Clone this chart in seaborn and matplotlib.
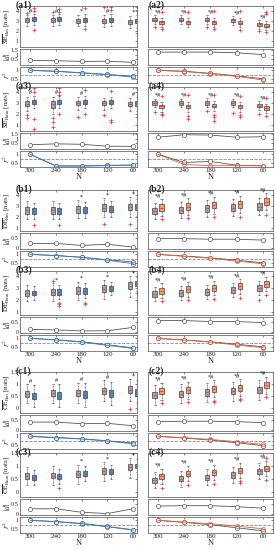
import numpy as np
import pandas as pd
import seaborn as sns
import matplotlib
matplotlib.use('Agg')
import matplotlib.pyplot as plt

sns.set_style('white')
plt.rcParams['font.family'] = ['Liberation Serif', 'DejaVu Serif']
plt.rcParams['mathtext.fontset'] = 'stix'

N = [300, 240, 180, 120, 60]

# box stats per N: [low whisker, q1, median, q3, high whisker]
# ---- group a (SE) ----
a1_gray = [[2.5, 2.85, 3.05, 3.25, 3.6], [2.5, 2.85, 3.05, 3.25, 3.6], [2.45, 2.8, 3.0, 3.2, 3.55],
           [2.4, 2.8, 3.0, 3.2, 3.55], [2.3, 2.7, 2.9, 3.1, 3.5]]
a1_col = [[2.6, 2.95, 3.15, 3.35, 3.7], [2.6, 2.95, 3.15, 3.35, 3.7], [2.5, 2.9, 3.1, 3.3, 3.7],
          [2.45, 2.85, 3.05, 3.3, 3.7], [2.3, 2.75, 2.95, 3.2, 3.6]]
a1_out_gray = [(300, 3.8), (240, 3.9), (120, 4.4)]
a1_out_col = [(300, 4.3), (300, 4.0), (300, 2.1), (240, 4.2), (240, 3.9), (180, 4.3), (180, 2.2),
              (120, 4.4), (120, 4.1), (60, 4.4), (60, 4.1), (60, 1.8)]
a1_marks = ['#', '#', '*', '#', '*']
a1_d = [0.38, 0.35, 0.28, 0.3, 0.18]
a1_r2_gray = [1.0, 0.95, 0.86, 0.76, 0.64]
a1_r2_col = [1.0, 0.94, 0.84, 0.74, 0.6]

a2_gray = [[2.65, 2.95, 3.1, 3.25, 3.55], [2.65, 2.95, 3.1, 3.25, 3.55], [2.65, 2.95, 3.1, 3.25, 3.6],
           [2.6, 2.9, 3.05, 3.2, 3.5], [2.2, 2.5, 2.65, 2.8, 3.1]]
a2_col = [[2.4, 2.7, 2.85, 3.0, 3.3], [2.4, 2.7, 2.85, 3.0, 3.3], [2.4, 2.7, 2.85, 3.0, 3.3],
          [2.35, 2.65, 2.8, 2.95, 3.25], [2.05, 2.35, 2.5, 2.65, 2.95]]
a2_out_gray = [(300, 2.4), (180, 2.4), (60, 2.0)]
a2_out_col = [(300, 3.9), (300, 2.2), (240, 3.9), (180, 4.0), (180, 2.2), (120, 4.0), (120, 2.1),
              (60, 3.7), (60, 3.9), (60, 1.9)]
a2_marks = ['*#', '*#', '*#', '*#', '*#']
a2_d = [1.27, 1.27, 1.27, 1.2, 1.0]
a2_r2_gray = [1.0, 0.95, 0.82, 0.68, 0.5]
a2_r2_col = [1.0, 0.93, 0.8, 0.64, 0.43]

a3_gray = [[2.3, 2.75, 2.95, 3.15, 3.6], [2.0, 2.5, 2.9, 3.2, 3.6], [2.4, 2.8, 3.0, 3.2, 3.6],
           [2.4, 2.8, 3.0, 3.15, 3.5], [2.3, 2.7, 2.9, 3.1, 3.5]]
a3_col = [[2.5, 2.9, 3.1, 3.3, 3.7], [2.5, 2.9, 3.1, 3.3, 3.7], [2.5, 2.9, 3.05, 3.25, 3.65],
          [2.5, 2.9, 3.05, 3.25, 3.6], [2.3, 2.75, 2.95, 3.15, 3.55]]
a3_out_gray = [(300, 1.6), (300, 1.9), (240, 0.8), (240, 1.2), (240, 1.6), (180, 1.7), (120, 1.9)]
a3_out_col = [(300, 4.4), (300, 4.0), (300, 1.5), (300, 0.6), (240, 4.4), (240, 4.0), (240, 3.8),
              (240, 2.0), (180, 4.2), (180, 2.0), (120, 4.1), (120, 1.4), (120, 1.2), (60, 4.4), (60, 1.7)]
a3_marks = ['#', '#', '#', '', '#']
a3_d = [0.35, 0.45, 0.4, 0.2, 0.18]
a3_r2_gray = [1.0, 0.32, 0.32, 0.35, 0.37]
a3_r2_col = [1.0, 0.3, 0.3, 0.33, 0.35]

a4_gray = [[2.6, 2.85, 3.0, 3.15, 3.4], [2.6, 2.85, 3.0, 3.15, 3.4], [2.6, 2.85, 3.0, 3.15, 3.45],
           [2.6, 2.85, 3.0, 3.15, 3.4], [2.35, 2.6, 2.75, 2.9, 3.15]]
a4_col = [[2.2, 2.55, 2.7, 2.85, 3.1], [2.2, 2.55, 2.7, 2.85, 3.1], [2.25, 2.6, 2.75, 2.9, 3.15],
          [2.2, 2.55, 2.7, 2.85, 3.1], [2.05, 2.4, 2.55, 2.7, 2.95]]
a4_out_gray = [(300, 2.2), (180, 2.3), (120, 2.1), (60, 2.0)]
a4_out_col = [(300, 2.0), (300, 1.9), (300, 3.7), (240, 1.8), (240, 1.5), (240, 3.8), (180, 1.9),
              (180, 1.7), (180, 1.3), (180, 3.8), (120, 1.9), (120, 1.7), (120, 3.7), (60, 3.5), (60, 1.8)]
a4_marks = ['*#', '*#', '*#', '*#', '*#']
a4_d = [1.15, 1.42, 1.38, 1.15, 1.2]
a4_r2_gray = [1.0, 0.52, 0.58, 0.35, 0.32]
a4_r2_col = [1.0, 0.4, 0.33, 0.33, 0.32]

# ---- group b (DE) ----
b1_gray = [[1.8, 2.3, 2.6, 2.9, 3.45], [1.8, 2.3, 2.6, 2.9, 3.45], [1.9, 2.4, 2.7, 3.0, 3.55],
           [2.0, 2.55, 2.85, 3.15, 3.7], [2.0, 2.6, 2.9, 3.2, 3.8]]
b1_col = [[1.8, 2.25, 2.55, 2.85, 3.3], [1.8, 2.25, 2.55, 2.85, 3.3], [1.9, 2.35, 2.65, 2.95, 3.4],
          [2.0, 2.45, 2.75, 3.05, 3.5], [2.1, 2.6, 2.9, 3.2, 3.65]]
b1_out_gray = [(120, 1.4), (60, 1.4)]
b1_out_col = [(300, 1.3), (240, 1.3)]
b1_marks = ['', '', '*', '*', '*']
b1_d = [0.22, 0.22, 0.12, 0.18, 0.04]
b1_r2_gray = [1.0, 0.93, 0.83, 0.68, 0.55]
b1_r2_col = [1.0, 0.93, 0.82, 0.65, 0.45]

b2_gray = [[1.8, 2.25, 2.55, 2.85, 3.3], [1.9, 2.35, 2.65, 2.95, 3.4], [2.0, 2.5, 2.8, 3.1, 3.55],
           [2.1, 2.55, 2.85, 3.15, 3.6], [2.2, 2.65, 2.95, 3.25, 3.7]]
b2_col = [[2.1, 2.55, 2.85, 3.15, 3.6], [2.2, 2.65, 2.95, 3.25, 3.7], [2.3, 2.8, 3.1, 3.4, 3.85],
          [2.35, 2.85, 3.15, 3.45, 3.95], [2.6, 3.1, 3.4, 3.7, 4.15]]
b2_out_gray = []
b2_out_col = [(300, 1.8), (240, 1.9), (180, 2.0), (120, 2.0), (60, 2.2)]
b2_marks = ['*#', '*#', '*#', '*#', '*#']
b2_d = [0.45, 0.45, 0.42, 0.42, 0.38]
b2_r2_gray = [1.0, 0.9, 0.8, 0.65, 0.5]
b2_r2_col = [1.0, 0.88, 0.77, 0.6, 0.44]

b3_gray = [[1.9, 2.35, 2.6, 2.85, 3.3], [1.9, 2.4, 2.65, 2.9, 3.4], [2.0, 2.5, 2.8, 3.1, 3.55],
           [2.1, 2.65, 2.95, 3.25, 3.7], [2.3, 2.9, 3.2, 3.5, 4.0]]
b3_col = [[2.0, 2.4, 2.6, 2.8, 3.2], [2.1, 2.45, 2.7, 2.9, 3.3], [2.2, 2.55, 2.8, 3.0, 3.4],
          [2.4, 2.75, 2.95, 3.15, 3.5], [2.8, 3.2, 3.4, 3.6, 3.95]]
b3_out_gray = [(240, 3.6)]
b3_out_col = [(240, 1.8), (240, 1.5), (240, 1.7), (180, 1.8), (180, 1.7), (60, 2.6)]
b3_marks = ['', '*', '*', '*', '*']
b3_d = [0.12, 0.1, 0.05, 0.06, 0.22]
b3_r2_gray = [1.0, 0.92, 0.8, 0.62, 0.44]
b3_r2_col = [1.0, 0.9, 0.78, 0.58, 0.4]

b4_gray = [[1.9, 2.25, 2.5, 2.75, 3.1], [2.0, 2.35, 2.6, 2.85, 3.2], [2.1, 2.45, 2.7, 2.95, 3.3],
           [2.25, 2.6, 2.85, 3.1, 3.45], [2.4, 2.75, 3.0, 3.25, 3.6]]
b4_col = [[2.2, 2.55, 2.8, 3.05, 3.4], [2.3, 2.65, 2.9, 3.15, 3.5], [2.45, 2.8, 3.05, 3.3, 3.65],
          [2.55, 2.9, 3.15, 3.4, 3.75], [2.75, 3.1, 3.35, 3.6, 3.95]]
b4_out_gray = [(60, 2.0)]
b4_out_col = [(300, 1.9), (240, 2.0), (180, 2.1), (120, 2.2), (60, 2.4)]
b4_marks = ['*#', '*#', '*#', '*#', '*#']
b4_d = [0.55, 0.55, 0.5, 0.5, 0.45]
b4_r2_gray = [1.0, 0.9, 0.8, 0.65, 0.5]
b4_r2_col = [1.0, 0.9, 0.78, 0.6, 0.45]

# ---- group c (CE) ----
c1_gray = [[0.2, 0.48, 0.6, 0.72, 1.0], [0.22, 0.5, 0.62, 0.74, 1.02], [0.2, 0.5, 0.62, 0.76, 1.05],
           [0.3, 0.6, 0.72, 0.85, 1.15], [0.3, 0.62, 0.75, 0.9, 1.2]]
c1_col = [[0.05, 0.38, 0.5, 0.62, 0.95], [0.05, 0.4, 0.52, 0.65, 1.0], [0.05, 0.42, 0.55, 0.7, 1.05],
          [0.15, 0.48, 0.62, 0.76, 1.1], [0.2, 0.52, 0.65, 0.8, 1.15]]
c1_out_gray = [(60, -0.05)]
c1_out_col = []
c1_marks = ['#', '#', '#', '#', '*']
c1_d = [0.38, 0.38, 0.3, 0.32, 0.2]
c1_r2_gray = [1.0, 0.93, 0.86, 0.74, 0.6]
c1_r2_col = [1.0, 0.92, 0.84, 0.72, 0.56]

c2_gray = [[0.15, 0.42, 0.55, 0.68, 0.95], [0.2, 0.47, 0.6, 0.73, 1.0], [0.25, 0.52, 0.65, 0.78, 1.05],
           [0.3, 0.57, 0.7, 0.83, 1.1], [0.35, 0.62, 0.75, 0.88, 1.15]]
c2_col = [[0.35, 0.58, 0.7, 0.82, 1.05], [0.4, 0.63, 0.75, 0.87, 1.1], [0.45, 0.68, 0.8, 0.92, 1.15],
          [0.5, 0.73, 0.85, 0.97, 1.2], [0.6, 0.83, 0.95, 1.07, 1.3]]
c2_out_gray = []
c2_out_col = [(300, 0.2), (240, 0.25), (180, 0.3), (180, 0.25), (120, 0.4), (120, 0.35), (60, 0.45)]
c2_marks = ['*#', '*#', '*#', '*#', '*#']
c2_d = [0.4, 0.42, 0.42, 0.4, 0.35]
c2_r2_gray = [1.0, 0.9, 0.78, 0.62, 0.45]
c2_r2_col = [1.0, 0.92, 0.82, 0.68, 0.52]

c3_gray = [[0.25, 0.5, 0.6, 0.72, 0.95], [0.25, 0.52, 0.62, 0.74, 0.98], [0.3, 0.58, 0.7, 0.82, 1.05],
           [0.4, 0.68, 0.8, 0.92, 1.15], [0.55, 0.83, 0.95, 1.07, 1.3]]
c3_col = [[0.25, 0.45, 0.55, 0.65, 0.85], [0.3, 0.5, 0.6, 0.7, 0.9], [0.4, 0.6, 0.7, 0.8, 1.0],
          [0.5, 0.68, 0.78, 0.88, 1.05], [0.75, 0.92, 1.0, 1.08, 1.25]]
c3_out_gray = []
c3_out_col = [(240, 0.15)]
c3_marks = ['', '', '*', '*', '*']
c3_d = [0.25, 0.25, 0.08, 0.02, 0.25]
c3_r2_gray = [1.0, 0.93, 0.82, 0.64, 0.44]
c3_r2_col = [1.0, 0.92, 0.8, 0.62, 0.42]

c4_gray = [[0.15, 0.36, 0.45, 0.55, 0.75], [0.2, 0.4, 0.5, 0.6, 0.8], [0.25, 0.45, 0.55, 0.66, 0.88],
           [0.35, 0.55, 0.65, 0.75, 0.95], [0.5, 0.7, 0.8, 0.9, 1.1]]
c4_col = [[0.3, 0.5, 0.6, 0.7, 0.9], [0.4, 0.6, 0.7, 0.8, 1.0], [0.45, 0.65, 0.75, 0.86, 1.05],
          [0.52, 0.72, 0.82, 0.92, 1.12], [0.6, 0.8, 0.9, 1.0, 1.2]]
c4_out_gray = []
c4_out_col = [(300, 0.15), (240, 0.25), (180, 0.3), (120, 0.35), (120, 0.4), (60, 0.45), (60, 1.3)]
c4_marks = ['*#', '*#', '*#', '*#', '*#']
c4_d = [0.38, 0.4, 0.4, 0.35, 0.28]
c4_r2_gray = [1.0, 0.88, 0.74, 0.56, 0.38]
c4_r2_col = [1.0, 0.9, 0.8, 0.66, 0.5]

GRAY = '#a4a4a4'
BLUE = '#3f8fcc'
ORANGE = '#f0a070'
BLUE_LINE = '#3a7ebf'
ORANGE_LINE = '#e0603a'
RED = '#e8343a'
FRAME = '#6a6a6a'

W, H = 276, 550
fig = plt.figure(figsize=(W / 100, H / 100), dpi=100)


def add_axes(left, top, width, height):
    return fig.add_axes([left / W, 1 - (top + height) / H, width / W, height / H])


def style(ax, xlim, left_col, show_x):
    ax.set_xlim(*xlim)
    ax.set_xticks(N)
    ax.set_xticklabels([str(n) for n in N])
    ax.tick_params(direction='in', length=1.5, width=0.4, labelsize=4.5, pad=1,
                   top=True, right=True, labelbottom=show_x, labelleft=left_col,
                   colors='#222222')
    ax.tick_params(axis='x', labelsize=5)
    for s in ax.spines.values():
        s.set_color(FRAME)
        s.set_linewidth(0.6)
    ax.set_xlabel('')
    ax.set_ylabel('')


def ylab(ax, text, size):
    ax.set_ylabel(text, fontsize=size, labelpad=0)
    ax.yaxis.set_label_coords(-0.068, 0.5)


def boxes(ax, stats, shift, color):
    xs, ys = [], []
    for n, st in zip(N, stats):
        xs += [n + shift] * len(st)
        ys += st
    df = pd.DataFrame({'x': xs, 'y': ys})
    sns.boxplot(data=df, x='x', y='y', native_scale=True, whis=(0, 100), width=0.16,
                color=color, saturation=1, linecolor='#333333', linewidth=0.45, ax=ax,
                whiskerprops={'linestyle': '--', 'linewidth': 0.4},
                capprops={'linewidth': 0.4},
                medianprops={'color': RED, 'linewidth': 0.5})


def outliers(ax, pts, shift):
    if not pts:
        return
    sns.scatterplot(x=[p[0] + shift for p in pts], y=[p[1] for p in pts], marker='+',
                    color=RED, s=7, linewidth=0.5, ax=ax, zorder=5)


def draw_subrow(left, width, top, xlim, left_col, show_x, tag, ylab_txt, ylim_box, yticks_box,
                ylim_d, yticks_d, gray, col, color, line_color, out_g, out_c, marks,
                d, r2g, r2c, box_h):
    # box panel
    ax = add_axes(left, top, width, box_h)
    boxes(ax, gray, 8, GRAY)
    boxes(ax, col, -8, color)
    outliers(ax, out_g, 8)
    outliers(ax, out_c, -8)
    rng = ylim_box[1] - ylim_box[0]
    for n, m, g, c in zip(N, marks, gray, col):
        if m:
            ax.text(n, max(g[4], c[4]) + 0.07 * rng, m, fontsize=4.5, ha='center', va='center',
                    color='#111111')
    ax.set_ylim(*ylim_box)
    ax.set_yticks(yticks_box)
    ax.set_yticklabels([('%g' % v) for v in yticks_box])
    style(ax, xlim, left_col, False)
    if left_col:
        ylab(ax, ylab_txt, 5)
    ax.text(-0.04 if left_col else 0.005, 1.01, tag, transform=ax.transAxes, fontsize=7,
            fontweight='bold', ha='left', va='center', zorder=10)

    # |d| panel
    ax = add_axes(left, top + box_h + 2, width, 16)
    sns.lineplot(x=N, y=d, ax=ax, color='#555555', marker='o', markersize=3,
                 markerfacecolor='white', markeredgecolor='#555555', markeredgewidth=0.5,
                 linewidth=0.6)
    ax.set_ylim(*ylim_d)
    ax.set_yticks(yticks_d)
    ax.set_yticklabels([('%g' % v) for v in yticks_d])
    style(ax, xlim, left_col, False)
    if left_col:
        ylab(ax, r'$|d|$', 5.5)

    # r^2 panel
    ax = add_axes(left, top + box_h + 20, width, 16)
    ax.axhline(0.75, color='#8a8a8a', linestyle='--', linewidth=0.6)
    sns.lineplot(x=N, y=r2g, ax=ax, color='#555555', marker='o', markersize=3,
                 markerfacecolor='white', markeredgecolor='#555555', markeredgewidth=0.5,
                 linewidth=0.6)
    sns.lineplot(x=N, y=r2c, ax=ax, color=line_color, marker='o', markersize=3,
                 markerfacecolor='none', markeredgecolor=line_color, markeredgewidth=0.5,
                 linewidth=0.6)
    ax.set_ylim(0.25, 1.2)
    ax.set_yticks([0.5, 1])
    ax.set_yticklabels(['0.5', '1'])
    style(ax, xlim, left_col, show_x)
    if left_col:
        ylab(ax, r'$r^2$', 5.5)
    if show_x:
        ax.set_xlabel('N', fontsize=6, labelpad=0)


groups = [
    ('a', 0, r'$\overline{\mathrm{SE}}_{\mathrm{Bm}}$ [nats]', r'$\overline{\mathrm{SE}}_{\mathrm{Bmn}}$ [nats]',
     (0.4, 4.5), [1, 2, 3, 4], (-0.1, 1.6), [0.5, 1, 1.5],
     [(a1_gray, a1_col, a1_out_gray, a1_out_col, a1_marks, a1_d, a1_r2_gray, a1_r2_col),
      (a2_gray, a2_col, a2_out_gray, a2_out_col, a2_marks, a2_d, a2_r2_gray, a2_r2_col),
      (a3_gray, a3_col, a3_out_gray, a3_out_col, a3_marks, a3_d, a3_r2_gray, a3_r2_col),
      (a4_gray, a4_col, a4_out_gray, a4_out_col, a4_marks, a4_d, a4_r2_gray, a4_r2_col)]),
    ('b', 184, r'$\overline{\mathrm{DE}}_{\mathrm{Bm}}$ [nats]', r'$\overline{\mathrm{DE}}_{\mathrm{Bmn}}$ [nats]',
     (0.75, 4.45), [1, 2, 3, 4], (-0.05, 0.72), [0, 0.5],
     [(b1_gray, b1_col, b1_out_gray, b1_out_col, b1_marks, b1_d, b1_r2_gray, b1_r2_col),
      (b2_gray, b2_col, b2_out_gray, b2_out_col, b2_marks, b2_d, b2_r2_gray, b2_r2_col),
      (b3_gray, b3_col, b3_out_gray, b3_out_col, b3_marks, b3_d, b3_r2_gray, b3_r2_col),
      (b4_gray, b4_col, b4_out_gray, b4_out_col, b4_marks, b4_d, b4_r2_gray, b4_r2_col)]),
    ('c', 366, r'$\overline{\mathrm{CE}}_{\mathrm{Bm}}$ [nats]', r'$\overline{\mathrm{CE}}_{\mathrm{Bmn}}$ [nats]',
     (-0.2, 1.5), [0, 0.5, 1, 1.5], (-0.05, 0.72), [0, 0.5],
     [(c1_gray, c1_col, c1_out_gray, c1_out_col, c1_marks, c1_d, c1_r2_gray, c1_r2_col),
      (c2_gray, c2_col, c2_out_gray, c2_out_col, c2_marks, c2_d, c2_r2_gray, c2_r2_col),
      (c3_gray, c3_col, c3_out_gray, c3_out_col, c3_marks, c3_d, c3_r2_gray, c3_r2_col),
      (c4_gray, c4_col, c4_out_gray, c4_out_col, c4_marks, c4_d, c4_r2_gray, c4_r2_col)]),
]

for letter, off, lab1, lab2, ylim_box, yt_box, ylim_d, yt_d, panels in groups:
    for k, p in enumerate(panels):
        left_col = k % 2 == 0
        second = k >= 2
        top = off + (87 if second else 6)
        box_h = 44 if second else 41
        draw_subrow(20 if left_col else 148, 117 if left_col else 125, top,
                    (324, 51) if left_col else (323, 37), left_col, second,
                    '(%s%d)' % (letter, k + 1), lab2 if second else lab1,
                    ylim_box, yt_box, ylim_d, yt_d, p[0], p[1],
                    BLUE if left_col else ORANGE, BLUE_LINE if left_col else ORANGE_LINE,
                    p[2], p[3], p[4], p[5], p[6], p[7], box_h)

fig.savefig('out.png', dpi=100)
